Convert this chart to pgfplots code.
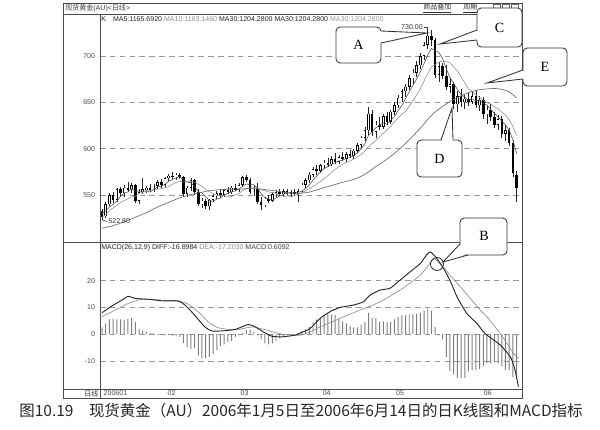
\documentclass[border=0pt]{standalone}
\usepackage{pgfplots}
\pgfplotsset{compat=1.18}
\usepackage{pgfplotstable}
\usepackage{fontspec}
\setmainfont{Liberation Sans}
\newfontfamily\cjk{Noto Sans CJK SC}
\newfontfamily\rmser{Liberation Serif}

% daily candles: index, open, high, low, close
\pgfplotstableread{
i o h l c
0 533 535 522.8 526
1 527 542 525 540
2 540 552 538 550
3 550 553 541 545
4 545 558 543 556
5 556 559 549 552
6 552 561 548 558
7 558 564 553 556
8 556 563 552 561
9 561 562 541 544
10 544 556 540 553
11 553 568 551 556
12 556 560 552 558
13 558 562 553 555
14 555 562 553 560
15 560 566 556 564
16 564 567 558 561
17 561 570 559 568
18 568 573 565 571
19 571 575 567 570
20 570 574 566 572
21 572 574 567 569
22 569 571 548 551
23 551 560 548 558
24 558 568 554 566
25 566 567 550 553
26 553 556 538 540
27 540 547 536 544
28 544 546 535 538
29 538 546 534 545
30 545 551 542 549
31 549 554 546 552
32 552 556 547 550
33 550 557 548 555
34 555 559 551 553
35 553 560 551 558
36 558 562 554 556
37 556 563 553 561
38 561 571 559 569
39 569 572 564 566
40 566 568 551 553
41 553 560 549 557
42 557 563 540 542
43 542 548 534 539
44 539 548 537 546
45 546 550 541 544
46 544 553 543 551
47 551 555 548 553
48 553 556 549 551
49 551 556 548 554
50 554 557 550 552
51 552 555 548 553
52 553 556 549 551
53 551 556 543 554
54 554 563 552 561
55 561 568 558 566
56 566 575 563 572
57 572 580 569 578
58 578 582 572 576
59 576 584 574 582
60 582 588 578 585
61 585 590 580 583
62 583 592 581 589
63 589 595 584 586
64 586 593 583 591
65 591 596 587 589
66 589 597 586 594
67 594 599 590 592
68 592 600 589 598
69 598 606 595 604
70 604 614 601 612
71 612 624 608 620
72 620 645 615 638
73 638 642 614 618
74 618 630 612 626
75 626 634 620 624
76 624 638 621 635
77 635 640 626 629
78 629 642 627 640
79 640 650 636 647
80 647 658 644 655
81 655 665 650 662
82 662 670 656 667
83 667 680 663 676
84 676 686 670 682
85 682 695 677 690
86 690 703 686 700
87 700 715 696 712
88 712 730 708 722
89 722 728 711 717
90 717 720 676 680
91 680 694 672 689
92 689 693 675 679
93 679 690 663 667
94 667 676 660 670
95 670 672 643 648
96 648 662 640 657
97 657 664 645 650
98 650 658 643 654
99 654 660 646 651
100 651 661 648 657
101 657 663 644 647
102 647 657 641 653
103 653 656 632 637
104 637 646 627 642
105 642 648 630 634
106 634 640 622 626
107 626 636 620 632
108 632 635 612 616
109 616 626 608 620
110 620 622 603 606
111 606 609 570 574
112 572 576 542 558
}\kdata

\pgfplotstableread{
i v
0 530
1 533
2 537
3 540
4 543.4
5 548.6
6 552.2
7 553.4
8 556.6
9 554.2
10 554.4
11 554.0
12 554.4
13 553.2
14 556.4
15 558.6
16 559.6
17 561.6
18 564.8
19 566.8
20 568.4
21 570.0
22 566.6
23 564.0
24 563.2
25 559.4
26 553.6
27 552.2
28 548.2
29 544.0
30 543.2
31 545.6
32 546.8
33 550.2
34 551.8
35 553.6
36 554.4
37 556.6
38 559.4
39 562.0
40 561.0
41 561.2
42 557.4
43 551.4
44 547.4
45 545.6
46 544.4
47 546.6
48 549.0
49 550.6
50 552.2
51 552.6
52 552.2
53 552.8
54 554.2
55 557.0
56 560.8
57 566.2
58 570.6
59 574.8
60 578.6
61 580.8
62 583.0
63 585.0
64 586.8
65 587.6
66 589.8
67 590.4
68 592.8
69 595.4
70 600.0
71 605.2
72 614.4
73 618.4
74 622.8
75 625.2
76 628.2
77 626.4
78 630.8
79 635.0
80 641.2
81 646.6
82 654.2
83 661.4
84 668.4
85 675.4
86 683.0
87 692.0
88 701.2
89 708.2
90 706.2
91 704.0
92 697.4
93 686.4
94 677.0
95 670.6
96 664.2
97 658.4
98 655.8
99 652.0
100 653.8
101 651.8
102 652.4
103 649.0
104 647.2
105 642.6
106 638.4
107 634.2
108 630.0
109 625.6
110 620.0
111 609.6
112 594.8
}\mafive

\pgfplotstableread{
i v
0 526
1 529
2 533
3 536
4 539
5 542
6 544
7 546
8 548
9 548.8
10 551.5
11 553.1
12 553.9
13 554.9
14 555.3
15 556.5
16 556.8
17 558.0
18 559.0
19 561.6
20 563.5
21 564.8
22 564.1
23 564.4
24 565.0
25 563.9
26 561.8
27 559.4
28 556.1
29 553.6
30 551.3
31 549.6
32 549.5
33 549.2
34 547.9
35 548.4
36 550.0
37 551.7
38 554.8
39 556.9
40 557.3
41 557.8
42 557.0
43 555.4
44 554.7
45 553.3
46 552.8
47 552.0
48 550.2
49 549.0
50 548.9
51 548.5
52 549.4
53 550.9
54 552.4
55 554.6
56 556.7
57 559.2
58 561.7
59 564.5
60 567.8
61 570.8
62 574.6
63 577.8
64 580.8
65 583.1
66 585.3
67 586.7
68 588.9
69 591.1
70 593.8
71 597.5
72 602.4
73 605.6
74 609.1
75 612.6
76 616.7
77 620.4
78 624.6
79 628.9
80 633.2
81 637.4
82 640.3
83 646.1
84 651.7
85 658.3
86 664.8
87 673.1
88 681.3
89 688.3
90 690.8
91 693.5
92 694.7
93 693.8
94 692.6
95 688.4
96 684.1
97 677.9
98 671.1
99 664.5
100 662.2
101 658.0
102 655.4
103 652.4
104 649.6
105 648.2
106 645.1
107 643.3
108 639.5
109 636.4
110 631.3
111 624.0
112 614.5
}\maten

\pgfplotstableread{
i v
0 514
3 517
6 521
9 526
12 531
15 537
18 542
21 547
24 550.5
27 553
29 554.7
32 555.8
35 556.3
38 556.6
41 557.4
44 555.9
47 554.4
50 552.5
53 551.8
56 553.2
59 556.8
62 560.3
65 563.7
68 566.9
71 572.3
74 580.8
77 588.8
80 598.3
83 609.8
86 622.3
89 636.1
92 645.8
95 653.1
98 659.0
101 663.0
104 664.6
107 664.8
110 661.4
112 654.9
}\mathirty

\pgfplotstableread{
i v
0 8
2.6 10.5
5.3 12.7
7.1 14.2
8.9 13.4
13 13
16.1 12.5
20.6 12.4
22.4 10.9
24.2 8.4
26 5.5
27.8 2.7
29.6 1.2
32.4 1.2
36 1.8
39.5 3.6
41.4 2.7
44 0.5
45.9 -0.8
48.6 -1
52.2 -0.4
53.5 0.4
56.2 2.1
58.9 5.9
61.6 8.4
64.3 10
67.9 10.9
70.6 12.1
72.4 14.6
75.1 16.5
77.8 17.2
80.5 20.2
83.2 23.3
86 26.5
88.6 30.8
91.4 26.5
94 20.2
95.9 14
98.6 7.7
101.3 4
103.5 0.2
107.6 -4.1
110.3 -8.5
111.5 -13
112.5 -19.7
}\diff

\pgfplotstableread{
i v
0 6.5
3.5 9
7.1 11.5
10.7 13
16.9 12.7
20.6 12.5
23.3 11.2
26 8.4
28.7 4.6
31.4 2.4
36 1.6
40.5 2.7
44 1.7
48.6 0
54 -0.3
58.9 2.7
64.3 5.9
69.7 9
75.1 12.1
80.5 16.5
86 22.1
88.9 27.1
90.4 27.7
96.8 17.7
102.2 9
104 6.5
107.6 0.2
111.2 -7.2
112.5 -9.1
}\dea

\pgfplotstableread{
i v
0 2.5
1 4
2 5.5
3 5.8
4 5.5
5 5.5
6 5.3
7 5.7
8 6
9 4.5
10 2
11 1.3
12 0.8
13 0.4
14 0.2
15 -0.2
16 -0.3
17 -0.5
18 -0.3
19 -0.6
20 -0.8
21 -1.2
22 -3.4
23 -5
24 -5.5
25 -5.2
26 -8
27 -9
28 -9
29 -8.5
30 -7.5
31 -6
32 -4.5
33 -3.8
34 -3
35 -2.5
36 -1
37 -0.5
38 0.5
39 1.5
40 1.6
41 0.8
42 -0.5
43 -2
44 -3.5
45 -3.8
46 -3.5
47 -2.5
48 -1.5
49 -0.8
50 -0.5
51 -0.4
52 -0.3
53 0.2
54 1
55 1.8
56 2.6
57 4.5
58 5.5
59 6
60 7
61 7.5
62 7.3
63 7.2
64 5.5
65 4.8
66 4
67 3
68 2.5
69 2.5
70 3.5
71 4.5
72 8
73 6
74 6
75 4.5
76 4.8
77 4.5
78 4.5
79 5.5
80 6.5
81 7
82 7
83 7.5
84 7.5
85 7.6
86 8
87 8.8
88 9.7
89 8.8
90 2.6
91 -0.5
92 -2
93 -8.6
94 -13.8
95 -15
96 -16.5
97 -16.5
98 -16.5
99 -14
100 -13.5
101 -13.5
102 -13
103 -12
104 -11
105 -11
106 -10.5
107 -11
108 -12
109 -13.5
110 -13.5
111 -16
112 -17
}\hist

\begin{document}
\begin{tikzpicture}
\begin{scope}[x=0.025cm,y=-0.025cm]
\path[use as bounding box, fill=white] (0,0) rectangle (600,429);
\end{scope}

\pgfplotsset{panel/.style={
    scale only axis, width=10.55cm,
    xmin=-0.54, xmax=113.5,
    axis line style={black!75, line width=0.5pt},
    tick style={draw=none},
    ymajorgrids,
    grid style={black!40, line width=0.4pt, dash pattern=on 4pt off 3pt},
    ticklabel style={font=\fontsize{5}{6}\selectfont, text=black!70},
    /pgf/number format/assume math mode=true,
  },
  candle/.style={draw=none, mark=none, forget plot,
    error bars/.cd, y dir=both, y explicit, error mark=none,
    error bar style={#1}},
}

% price panel
\begin{axis}[panel, at={(2.5cm,-6.05cm)}, anchor=south west,
    height=5.7cm, ymin=499.2, ymax=745.5,
    ytick={550,600,650,700}, xtick=\empty]
  % wicks
  \addplot[candle={draw=black!85, line width=0.4pt}]
    table[x=i, y=c, y error plus expr=\thisrow{h}-\thisrow{c},
          y error minus expr=\thisrow{c}-\thisrow{l}] {\kdata};
  % bodies
  \addplot[candle={draw=black, line width=1.8pt}]
    table[x=i, y expr=(\thisrow{o}+\thisrow{c})/2,
          y error expr={max(abs(\thisrow{o}-\thisrow{c})/2,0.4)}] {\kdata};
  % hollow inside of rising candles
  \addplot[candle={draw=white, line width=0.9pt}]
    table[x=i, y expr=(\thisrow{o}+\thisrow{c})/2,
          y error expr={(\thisrow{c}>\thisrow{o})*max(abs(\thisrow{c}-\thisrow{o})/2-0.7,0)}] {\kdata};
  % moving averages
  \addplot[black!70, line width=0.4pt, mark=none] table[x=i, y=v] {\mafive};
  \addplot[black!45, line width=0.4pt, mark=none] table[x=i, y=v] {\maten};
  \addplot[black!55, line width=0.5pt, mark=none, smooth] table[x=i, y=v] {\mathirty};
  \draw[black!75, line width=0.4pt] (axis cs:86.9,731.5) -- (axis cs:88,731.5) -- (axis cs:88,730);
  \node[anchor=east, inner sep=0.5pt, font=\fontsize{5}{6}\selectfont, text=black!80] at (axis cs:86.9,731.5) {730.00};
  \draw[black!75, line width=0.4pt] (axis cs:0.2,522.8) -- (axis cs:1.5,521.5);
  \node[anchor=west, inner sep=0.5pt, font=\fontsize{5}{6}\selectfont, text=black!80] at (axis cs:1.5,521.5) {522.80};
\end{axis}

% MACD panel
\begin{axis}[panel, at={(2.5cm,-9.725cm)}, anchor=south west,
    height=3.675cm, ymin=-20.6, ymax=34.5,
    ytick={-10,0,10,20},
    xtick={0,17.3,37,59.2,79,102.7},
    xticklabels={200601,02,03,04,05,06},
    xticklabel style={anchor=north west, inner sep=1pt}]
  \addplot[ybar, bar width=0.7pt, bar shift=0pt, fill=black!50, draw=none] table[x=i, y=v] {\hist};
  \addplot[black!45, line width=0.45pt, mark=none, smooth, tension=0.4] table[x=i, y=v] {\dea};
  \addplot[black!85, line width=0.65pt, mark=none, smooth, tension=0.4] table[x=i, y=v] {\diff};
\end{axis}

\begin{scope}[x=0.025cm,y=-0.025cm, font=\fontsize{5}{6}\selectfont]
  % window frame
  \draw[black!70, line width=0.6pt] (63,3) rectangle (522,398);
  \draw[black!70, line width=0.5pt] (63,14) -- (522,14) (63,242) -- (522,242)
       (63,389) -- (522,389) (100,14) -- (100,398);
  \node[anchor=west, inner sep=0pt, text=black!75] at (65,8.5) {{\cjk 现货黄金}(AU)<{\cjk 日线}>};
  \node[anchor=west, inner sep=0pt, text=black!80] at (423,8.5) {\cjk\underline{商品叠加}};
  \node[anchor=west, inner sep=0pt, text=black!80] at (463,8.5) {\cjk\underline{周期}};
  \foreach \xx in {493,502,511} \draw[black!60, line width=0.4pt] (\xx,4) rectangle ++(7,5);
  \node[anchor=west, inner sep=0pt] at (101,19.5) {{\color{black!85}K\quad MA5:1165.6920} {\color{black!45}MA10:1163.1460} {\color{black!85}MA30:1204.2800 MA30:1204.2800} {\color{black!40}MA30:1204.2800}};
  \node[anchor=west, inner sep=0pt] at (101,247.5) {{\color{black!85}MACD(26,12,9) DIFF:-16.8984} {\color{black!45}DEA:-17.2030} {\color{black!75}MACD:0.6092}};
  \node[anchor=west, inner sep=0pt, text=black!80] at (84,393.5) {\cjk 日线};

  % callouts
  \tikzset{callout/.style={draw=black!80, line width=0.6pt, fill=white, rounded corners=3pt},
           ptr/.style={draw=black!80, line width=0.6pt}}
  % A
  \draw[callout] (336,27) rectangle (381,63);
  \fill[white] (379,31) -- (427,33) -- (379,43) -- cycle;
  \draw[ptr] (381,31) -- (427,33) -- (381,43);
  \node[font=\rmser\fontsize{10}{12}\selectfont] at (358.5,45) {A};
  % C
  \draw[callout] (477,8) rectangle (522,47);
  \fill[white] (479,30) -- (440,44) -- (479,40) -- cycle;
  \draw[ptr] (477,30) -- (440,44) -- (477,40);
  \node[font=\rmser\fontsize{10}{12}\selectfont] at (499.5,28) {C};
  % E
  \draw[callout] (523,48) rectangle (567,86);
  \fill[white] (525,70) -- (487,83) -- (525,79) -- cycle;
  \draw[ptr] (523,70) -- (487,83) -- (523,79);
  \node[font=\rmser\fontsize{10}{12}\selectfont] at (545,67) {E};
  % D
  \draw[callout] (417,140) rectangle (462,177);
  \fill[white] (441,142) -- (452,108) -- (453,142) -- cycle;
  \draw[ptr] (441,140) -- (452,108) -- (453,140);
  \node[font=\rmser\fontsize{10}{12}\selectfont] at (439.5,159) {D};
  % B
  \draw[callout] (460,218) rectangle (507,255);
  \fill[white] (462,243) -- (443,262) -- (469,253) -- cycle;
  \draw[ptr] (460,244) -- (443,262) -- (468,255);
  \node[font=\rmser\fontsize{10}{12}\selectfont] at (484,236) {B};
  \draw[black!80, line width=0.6pt] (437,264) circle (6.5);

  % caption
  \node[font=\cjk\fontsize{11}{13}\selectfont, text=black!85] at (301,411)
    {图10.19\quad 现货黄金（AU）2006年1月5日至2006年6月14日的日K线图和MACD指标};
\end{scope}
\end{tikzpicture}
\end{document}
